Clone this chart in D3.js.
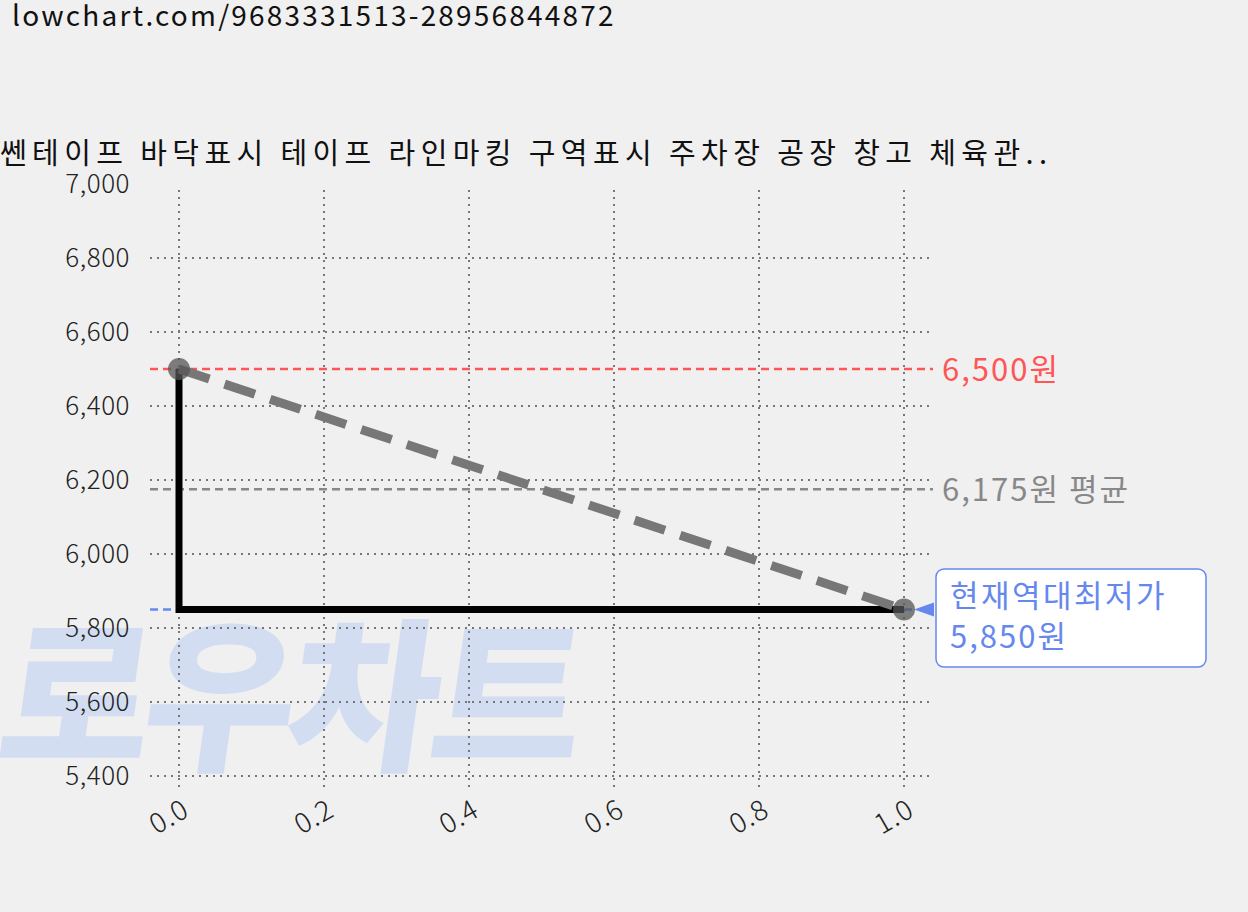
<!DOCTYPE html><html><head><meta charset="utf-8">
<script src="https://cdn.jsdelivr.net/npm/d3@7"></script>
<style>body{margin:0;background:#f0f0f0;}svg{display:block;font-family:"Noto Sans CJK KR",sans-serif;}</style></head><body>
<svg id="c" width="1248" height="912"></svg>
<script>
const xs=[0,1];
const prices=[6500,5850];
const yTicks=[5400,5600,5800,6000,6200,6400,6600,6800,7000];
const xTicks=[0,0.2,0.4,0.6,0.8,1.0];
const maxP=6500, avgP=6175, minP=5850;
const title="쎈테이프 바닥표시 테이프 라인마킹 구역표시 주차장 공장 창고 체육관..";
const url="lowchart.com/9683331513-28956844872";
const svg=d3.select("#c");
const x=d3.scaleLinear().domain([0,1]).range([179,904]);
const y=d3.scaleLinear().domain([5400,7000]).range([776,184]);
svg.append("text").attr("x",12).attr("y",26).attr("font-size",28).attr("letter-spacing",2.2).attr("fill","#111").text(url);
// watermark
svg.append("text").attr("x",0).attr("y",758).attr("font-size",165).attr("font-weight",900)
 .attr("fill","#d3ddf2").attr("transform","skewX(-8) translate(100,0)").attr("letter-spacing",-8).text("로우차트");
svg.append("text").attr("x",0).attr("y",164).attr("font-size",29).attr("letter-spacing",5.4).attr("fill","#111").text(title);
const g=svg.append("g");
yTicks.forEach(t=>{
 if(t<7000) g.append("line").attr("x1",150).attr("x2",933).attr("y1",y(t)).attr("y2",y(t)).attr("stroke","#777").attr("stroke-width",2).attr("stroke-dasharray","2,5");
 svg.append("text").attr("x",130).attr("y",y(t)+9).attr("text-anchor","end").attr("font-size",26).attr("font-weight",300).attr("letter-spacing",0.5).attr("fill","#222").text(d3.format(",")(t));
});
xTicks.forEach(t=>{
 g.append("line").attr("x1",x(t)).attr("x2",x(t)).attr("y1",190).attr("y2",792).attr("stroke","#777").attr("stroke-width",2).attr("stroke-dasharray","2,5");
 svg.append("text").attr("transform",`translate(${x(t)+12},${815}) rotate(-30)`).attr("text-anchor","end").attr("font-size",28).attr("font-weight",300).attr("letter-spacing",1).attr("fill","#222").text(t.toFixed(1));
});
function hline(v,c,x2){svg.append("line").attr("x1",150).attr("x2",x2).attr("y1",y(v)).attr("y2",y(v)).attr("stroke",c).attr("stroke-width",2.5).attr("stroke-dasharray","8,5");}
hline(maxP,"#ff5555",933);hline(avgP,"#888",933);hline(minP,"#6688ee",912);
svg.append("text").attr("x",942).attr("y",y(maxP)+12).attr("font-size",31).attr("letter-spacing",2).attr("fill","#ff5555").text(d3.format(",")(maxP)+"원");
svg.append("text").attr("x",942).attr("y",y(avgP)+12).attr("font-size",31).attr("letter-spacing",2).attr("fill","#888").text(d3.format(",")(avgP)+"원 평균");
svg.append("path").attr("d",`M${x(1)+10},${y(minP)} l20,-7 v14 z`).attr("fill","#6688ee");
svg.append("rect").attr("x",936).attr("y",569).attr("width",270).attr("height",98).attr("rx",8).attr("fill","#fff").attr("stroke","#6688ee").attr("stroke-width",1.5);
svg.append("text").attr("x",950).attr("y",607).attr("font-size",31).attr("letter-spacing",2.5).attr("fill","#6688ee").text("현재역대최저가");
svg.append("text").attr("x",950).attr("y",648).attr("font-size",31).attr("letter-spacing",2).attr("fill","#6688ee").text(d3.format(",")(minP)+"원");
const pts=xs.map((v,i)=>[x(v),y(prices[i])]);
svg.append("path").attr("d",d3.line().curve(d3.curveStepBefore)(pts)).attr("fill","none").attr("stroke","#000").attr("stroke-width",7);
svg.append("path").attr("d",d3.line()(pts)).attr("fill","none").attr("stroke","#777").attr("stroke-width",9).attr("stroke-dasharray","32,16");
pts.forEach(p=>svg.append("circle").attr("cx",p[0]).attr("cy",p[1]).attr("r",11).attr("fill","#555").attr("opacity",0.75));
</script></body></html>
